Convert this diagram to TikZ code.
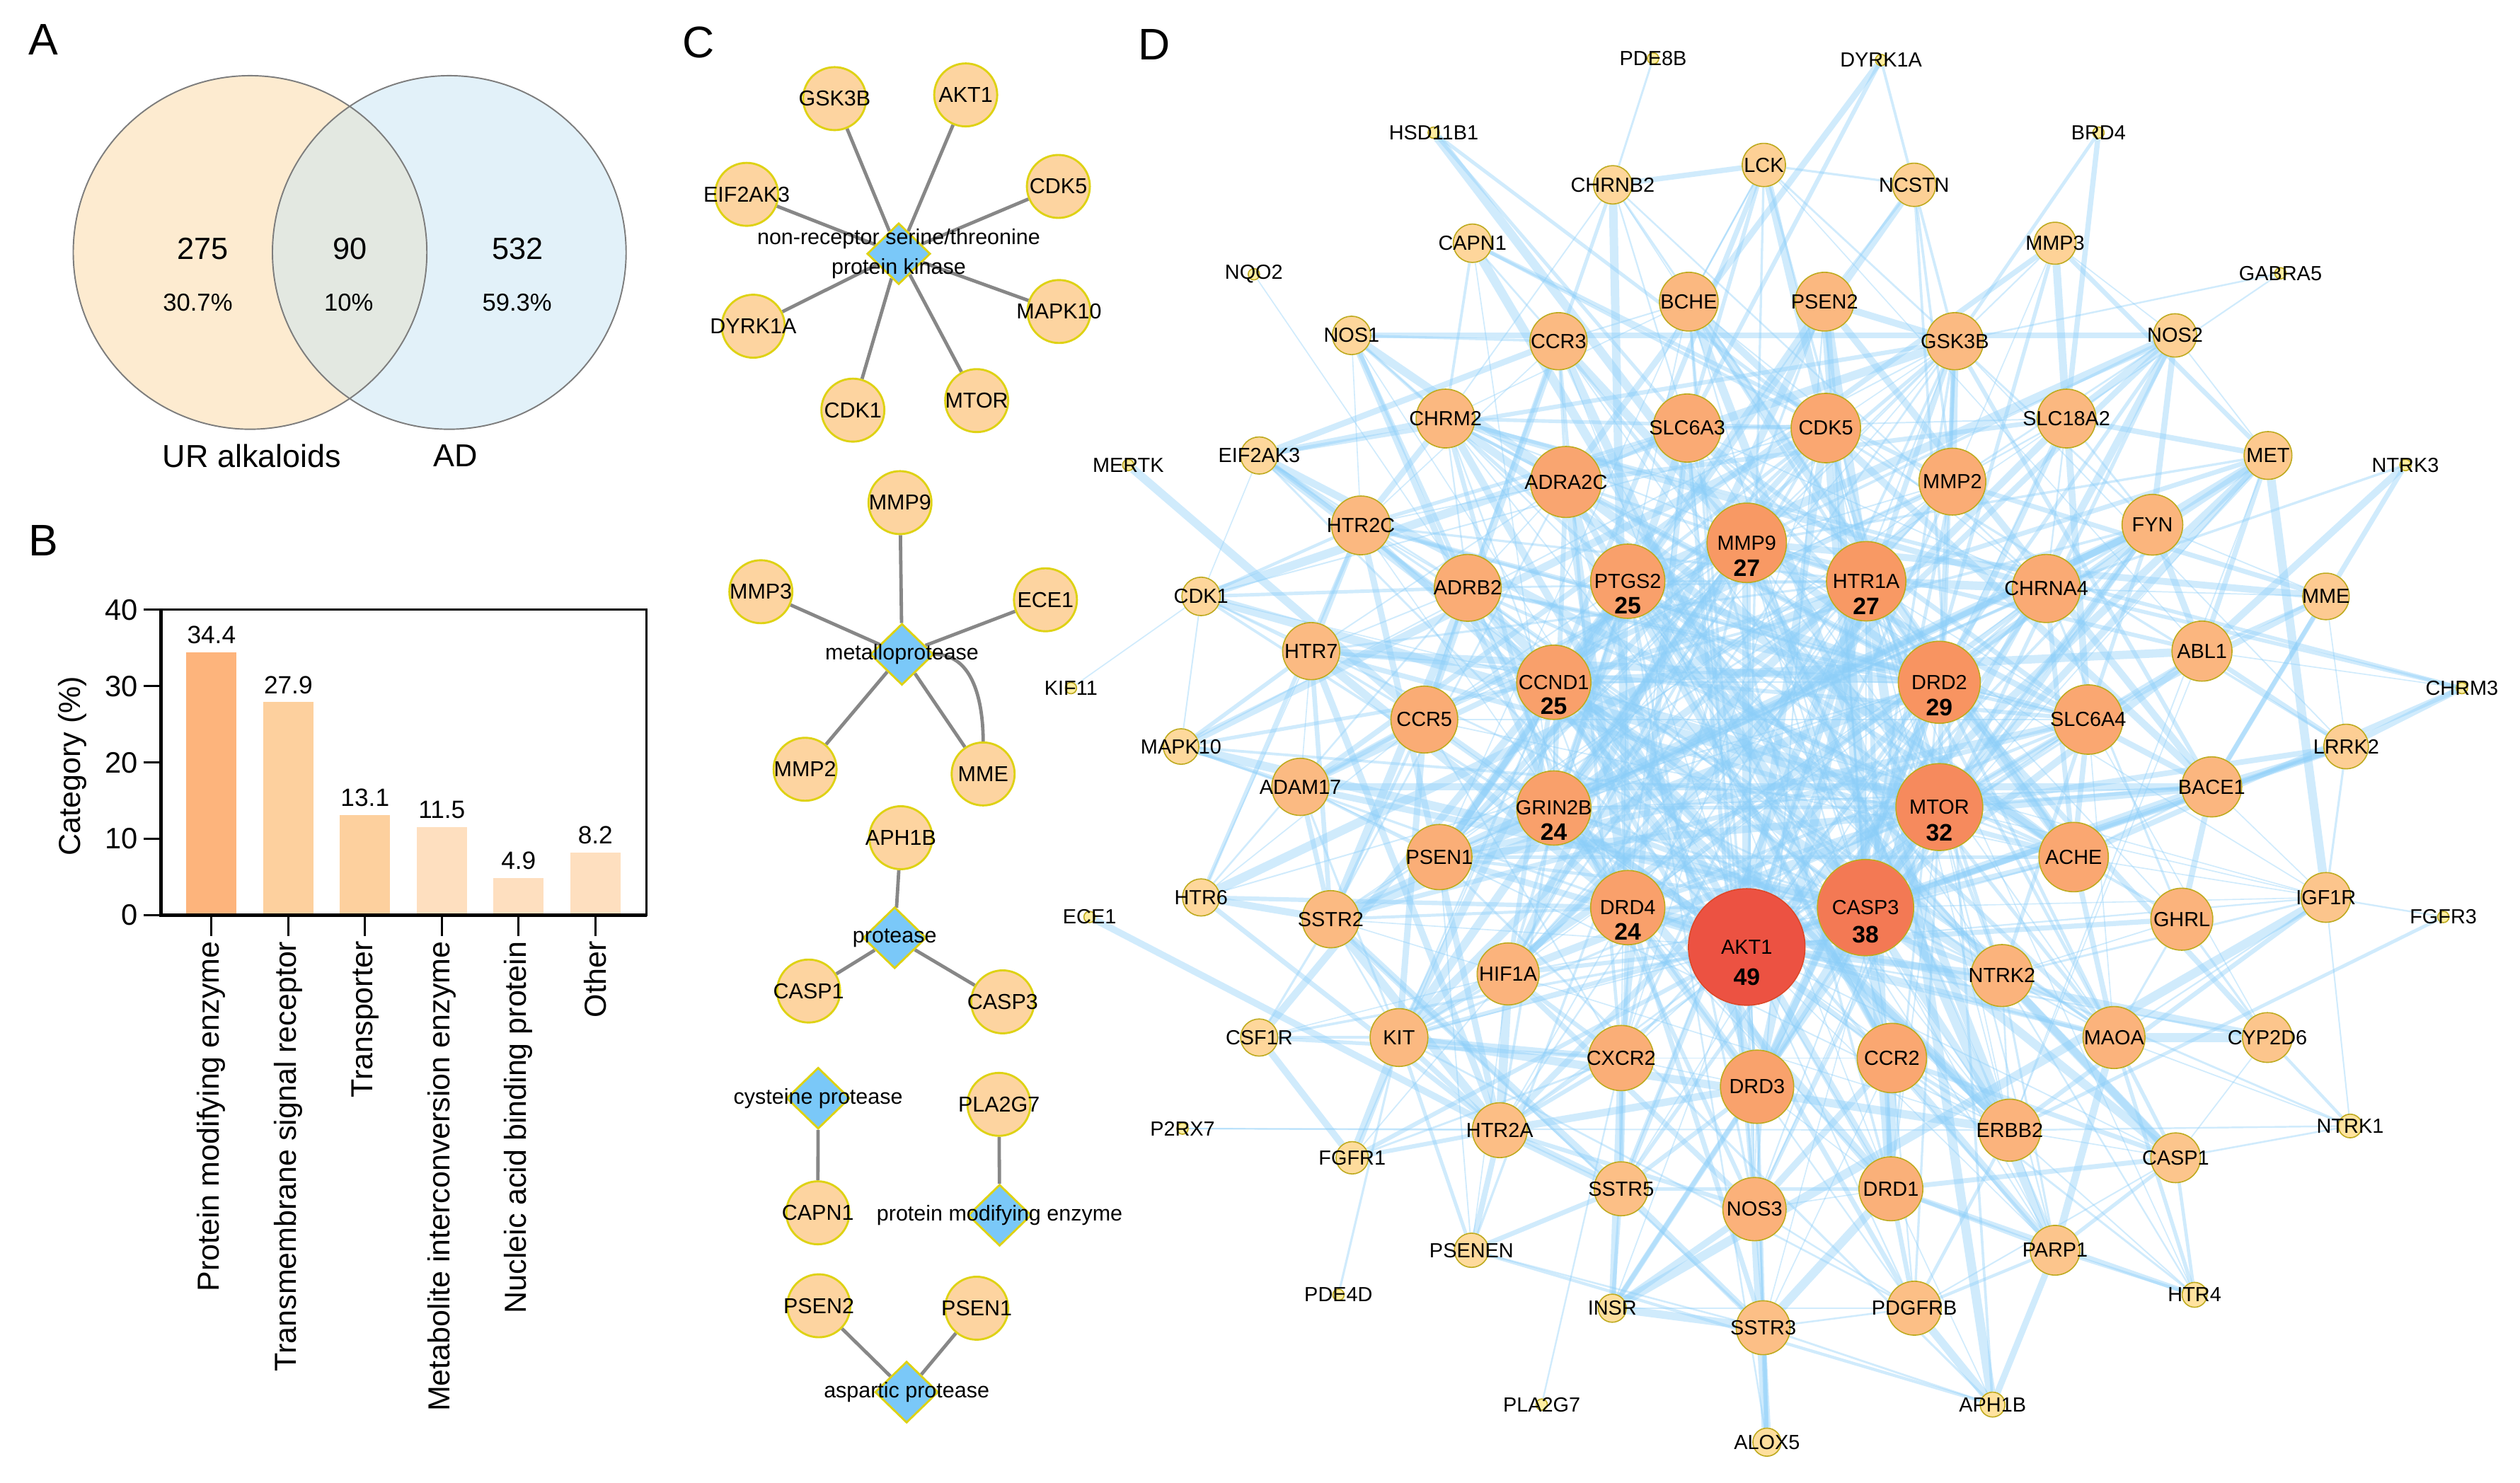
\documentclass[tikz,border=0pt]{standalone}
\usepackage{fontspec}
\setmainfont{Liberation Sans}
\usetikzlibrary{shapes.geometric,backgrounds}

\definecolor{vennorange}{RGB}{253,235,208}
\definecolor{vennblue}{RGB}{226,241,249}
\definecolor{venngreen}{RGB}{227,232,225}
\definecolor{venngray}{RGB}{125,125,125}
\definecolor{barA}{RGB}{253,180,124}
\definecolor{barB}{RGB}{253,208,158}
\definecolor{barC}{RGB}{254,223,191}
\definecolor{peach}{RGB}{253,212,160}
\definecolor{classblue}{RGB}{122,200,248}
\definecolor{ringyellow}{RGB}{222,210,20}
\definecolor{linkgray}{RGB}{135,135,135}
\definecolor{cyellow}{RGB}{255,238,160}
\definecolor{cpeach}{RGB}{254,214,155}
\definecolor{corange}{RGB}{248,150,98}
\definecolor{cred}{RGB}{236,82,66}
\definecolor{olivering}{RGB}{190,170,30}
\definecolor{akred}{RGB}{220,72,40}
\definecolor{edgeblue}{RGB}{138,205,248}

\newcommand{\fsz}[2]{\fontsize{#1}{#2}\selectfont}
% fill of a gene node from its radius
\newcommand{\genecolor}[1]{%
  \pgfmathtruncatemacro\gpa{min(100,max(0,(#1-3.5)/8.5*100))}%
  \pgfmathtruncatemacro\gpb{min(100,max(0,(#1-12)/13*100))}%
  \pgfmathtruncatemacro\gpc{min(100,max(0,(#1-25)/11*100))}%
  \colorlet{gfill}{cpeach!\gpa!cyellow}%
  \colorlet{gfill}{corange!\gpb!gfill}%
  \colorlet{gfill}{cred!\gpc!gfill}}

\tikzset{
  panel/.style={font=\fsz{19.5}{23}, inner sep=0pt},
  ctext/.style={font=\fsz{9.5}{11}},
  dtext/.style={font=\fsz{9}{10}},
  hubnum/.style={font=\fsz{10.5}{12}\bfseries},
  cgene/.style={circle, fill=peach, draw=ringyellow, line width=0.9pt, minimum size=0.975cm, inner sep=0pt},
  cclass/.style={diamond, fill=classblue, draw=ringyellow, line width=0.9pt, minimum width=0.98cm, minimum height=0.95cm, inner sep=0pt},
  clink/.style={draw=linkgray, line width=1.5pt},
  gene/.style={circle, draw=olivering, line width=0.5pt, inner sep=0pt, minimum size=#1},
  link/.style={draw=edgeblue, opacity=0.4},
}

\begin{document}
\begin{tikzpicture}[x=0.025cm, y=-0.025cm]
    \useasboundingbox (0,0) rectangle (1561,918.4);

    % A: venn
    \node[panel] (lblA) at (27,24.6) {A};
    \coordinate (vennL) at (154.9,156.4);
    \coordinate (vennR) at (278.3,156.4);
    \fill[vennorange] (vennL) circle (2.7375cm);
    \fill[vennblue] (vennR) circle (2.7375cm);
    \begin{scope}
        \clip (vennL) circle (2.7375cm);
        \fill[venngreen] (vennR) circle (2.7375cm);
    \end{scope}
    \draw[venngray, line width=0.6pt] (vennL) circle (2.7375cm) (vennR) circle (2.7375cm);
    \node[font=\fsz{13.5}{16}] (numL) at (125.5,154) {275};
    \node[font=\fsz{10.8}{13}] (pctL) at (122.5,187.5) {30.7\%};
    \node[font=\fsz{13.5}{16}] (numM) at (216.8,154) {90};
    \node[font=\fsz{10.8}{13}] (pctM) at (216,187.5) {10\%};
    \node[font=\fsz{13.5}{16}] (numR) at (320.6,154) {532};
    \node[font=\fsz{10.8}{13}] (pctR) at (320.3,187.5) {59.3\%};
    \node[font=\fsz{14}{17}] (setL) at (156,282.4) {UR alkaloids};
    \node[font=\fsz{14}{17}] (setR) at (282,282.4) {AD};

    % B: bar chart
    \node[panel] (lblB) at (27,335.1) {B};
    \foreach \i/\v/\c/\t in {1/34.4/barA/Protein modifying enzyme,2/27.9/barB/Transmembrane signal receptor,3/13.1/barB/Transporter,4/11.5/barC/Metabolite interconversion enzyme,5/4.9/barC/Nucleic acid binding protein,6/8.2/barC/Other}
    {
        \pgfmathsetmacro\bx{131+47.56*(\i-1)}
        \pgfmathsetmacro\by{567-4.73*\v}
        \fill[\c] ({\bx-15.6},567) rectangle ({\bx+15.6},\by);
        \node[font=\fsz{11}{13}, anchor=south, inner sep=0pt] (val\i) at (\bx,{\by-5}) {\v};
        \draw[line width=0.9pt] (\bx,567) -- (\bx,580);
        \node[font=\fsz{13.4}{16}, rotate=90, anchor=east, inner sep=0pt] (cat\i) at (\bx,583) {\t};
    }
    \foreach \v in {0,10,20,30,40}
    {
        \draw[line width=0.9pt] (88.9,{567-4.73*\v}) -- (99.7,{567-4.73*\v});
        \node[anchor=east, inner sep=0pt, font=\fsz{13}{15}] (tick\v) at (85.5,{567-4.73*\v}) {\v};
    }
    \draw[line width=0.9pt] (99.7,377.8) rectangle (400.5,567);
    \draw[line width=1.3pt] (99.7,377.8) -- (99.7,567) -- (400.5,567);
    \node[font=\fsz{13.4}{16}, rotate=90] (ytitle) at (44.7,474.5) {Category (\%)};

    % C: classes
    \node[panel] (lblC) at (432.7,26.4) {C};
    \foreach \n/\x/\y in {GSK3B/517/61.1,AKT1/598.2/58.8,CDK5/655.6/115.5,EIF2AK3/462.5/120.4,%
        DYRK1A/466.6/202.1,MAPK10/656/193,CDK1/528.3/254.1,MTOR/605/248.2,%
        MMP9/557.5/311.4,MMP3/471.3/366.6,ECE1/647.6/371.6,MMP2/498.7/476.6,MME/609/479.5,%
        APH1B/558/519,CASP1/500.9/614,CASP3/621.1/620.7,PLA2G7/618.8/684.2,%
        CAPN1/506.6/751.4,PSEN2/507.2/809,PSEN1/605/810.5}
        \node[cgene, label={[ctext]center:\n}] (c\n) at (\x,\y) {};
    \node[cclass, label={[ctext, align=center, font=\fsz{9.5}{13}]center:non-receptor serine/threonine\\protein kinase}] (ckinase) at (556.7,157.2) {};
    \node[cclass, label={[ctext]center:metalloprotease}] (cmetallo) at (558.7,405.4) {};
    \node[cclass, label={[ctext]center:protease}] (cprotease) at (554.2,581) {};
    \node[cclass, label={[ctext]center:cysteine protease}] (ccysteine) at (506.8,680.4) {};
    \node[cclass, label={[ctext]center:protein modifying enzyme}] (cmodify) at (619.2,752.9) {};
    \node[cclass, label={[ctext]center:aspartic protease}] (caspartic) at (561.6,862.5) {};

    % D: network
    \node[panel] (lblD) at (715,27.4) {D};
    \foreach \n/\x/\y/\r in {%
        HSD11B1/888.1/82.2/3.5,NQO2/776.7/169.9/3.5,MERTK/698.9/288.1/3.5,PDE8B/1024/36.2/3.5,%
        DYRK1A/1165.2/37.2/3.5,BRD4/1299.9/82.2/3.5,GABRA5/1412.6/169.3/3.5,NTRK3/1490/288.1/3.5,%
        KIF11/663.4/426.3/3.5,ECE1/674.9/568.1/3.5,CHRM3/1525/426.3/3.5,FGFR3/1513.5/568.1/3.5,%
        P2RX7/732.5/699.2/3.5,PDE4D/829.1/802.2/3.5,PLA2G7/955/870.2/3.5,%
        CAPN1/912.1/150.7/11.9,NOS1/837.2/207.8/11.9,CHRM2/895.4/259.3/18.2,EIF2AK3/780/282.2/11.5,%
        CHRNB2/999/114.5/11.9,LCK/1092.6/102.2/13.4,NCSTN/1185.7/114.5/13.4,BCHE/1046.1/186.9/18.2,%
        PSEN2/1130.2/186.9/18.2,CCR3/965.4/211.4/17.7,GSK3B/1210.9/211.4/17.7,SLC6A3/1045.1/265.2/21.1,%
        CDK5/1131/265.2/21.5,MMP2/1209.4/298.4/20.7,MMP3/1273/150.7/13,NOS2/1347.3/207.8/13.4,%
        SLC18A2/1280.1/259.3/18.2,MET/1404.9/282.2/14.8,HTR2C/843/325.5/18.2,CDK1/744/369.5/11.9,%
        ADRB2/909.2/364.2/20.7,HTR7/812.2/403.4/17.7,CCR5/882.3/445.8/20.7,MAPK10/731.6/462.5/11,%
        ADAM17/805.5/487.5/17.7,PSEN1/891.6/531/20.2,HTR6/744/556/11.5,SSTR2/824.3/569.5/17.7,%
        HIF1A/934.2/603.4/19.2,NTRK2/1240.1/604.4/19.2,ADRA2C/970/298.6/22,CHRNA4/1267.6/364.6/21.1,%
        FYN/1333.3/325.1/18.8,MME/1440.8/369.5/14.4,ABL1/1364/403.4/18.6,SLC6A4/1293.5/445.8/21.5,%
        LRRK2/1453.3/462.5/13.8,BACE1/1370/487.5/18.6,ACHE/1284.5/531/21.5,IGF1R/1440.8/556/15.4,%
        GHRL/1351.5/569.5/19.2,CSF1R/780/642.8/11.5,KIT/866.6/642.8/17.9,HTR2A/929/700.2/17,%
        FGFR1/837.6/717.3/10,PSENEN/911.5/774.6/10.6,CXCR2/1004.2/655.5/20.2,CCR2/1171.9/655.5/21.5,%
        DRD3/1088.4/673.3/22.7,ERBB2/1244.9/700.2/19.2,SSTR5/1004.2/736.5/16.7,DRD1/1171.3/736.5/19.8,%
        NOS3/1086.8/749.1/19.6,INSR/998.7/810.5/8.7,PDGFRB/1185.8/810.5/16.7,SSTR3/1092.2/822.6/16.7,%
        APH1B/1234.3/870.2/7.7,ALOX5/1094.5/893.5/8.7,MAOA/1309.5/642.8/19.2,CYP2D6/1404.5/642.8/15.4,%
        NTRK1/1455.8/697.6/7.3,CASP1/1347.7/717.3/15.4,PARP1/1273/774.6/15.4,HTR4/1359.4/802.2/7.7}
    {
        \genecolor{\r}
        \node[gene={\r*0.05cm}, fill=gfill, label={[dtext]center:\n}] (d\n) at (\x,\y) {};
    }
    % hubs with degree
    \foreach \n/\x/\y/\r/\k/\b in {%
        MMP9/1082/336.3/24.6/27/olivering,PTGS2/1008.3/360.1/23/25/olivering,%
        HTR1A/1156/360.1/24.6/27/olivering,CCND1/962.5/422.7/23/25/olivering,%
        DRD2/1201.3/422.7/25.4/29/olivering,GRIN2B/962.5/500.6/23/24/olivering,%
        MTOR/1201.3/500/26.9/32/olivering,DRD4/1008.3/562.3/23/24/olivering,%
        CASP3/1155.6/562.3/29.8/38/olivering,AKT1/1082/586.7/36.1/49/akred}
    {
        \genecolor{\r}
        \pgfmathsetmacro\ky{-(8+0.3*\r)*0.025}
        \node[gene={\r*0.05cm}, fill=gfill, draw=\b, label={[dtext]center:\n}, label={[hubnum, yshift=\ky cm]center:\k}] (d\n) at (\x,\y) {};
    }

    \begin{pgfonlayer}{background}
        \foreach \n in {GSK3B,AKT1,CDK5,EIF2AK3,MAPK10,DYRK1A,CDK1,MTOR}
            \draw[clink] (ckinase) -- (c\n);
        \foreach \n in {MMP9,MMP3,ECE1,MMP2,MME}
            \draw[clink] (cmetallo) -- (c\n);
        \draw[clink] (cmetallo) to[out=0, in=90] (cMME);
        \foreach \n in {APH1B,CASP1,CASP3}
            \draw[clink] (cprotease) -- (c\n);
        \draw[clink] (ccysteine) -- (cCAPN1);
        \draw[clink] (cmodify) -- (cPLA2G7);
        \foreach \n in {PSEN2,PSEN1}
            \draw[clink] (caspartic) -- (c\n);

        \pgfmathsetseed{42}
        \foreach \a/\bs in {%
            AKT1/{CASP3,MTOR,DRD2,MMP9,HTR1A,PTGS2,CCND1,GRIN2B,DRD4,GSK3B,CDK5,MMP2,ERBB2,NTRK2,HIF1A,PSEN1,CCR2,CXCR2,NOS3,KIT,ABL1,FYN,IGF1R,MET,NOS2,NOS1,LCK,CDK1,EIF2AK3,MAPK10,CSF1R,FGFR1,INSR,PDGFRB,PARP1,CASP1,BACE1,GHRL,SLC6A4,ACHE,ADRB2,CCR5,DRD3,DRD1,MAOA,CYP2D6,SSTR2,HTR2A,LRRK2},%
            CASP3/{MTOR,DRD2,MMP9,HTR1A,PTGS2,CCND1,GRIN2B,DRD4,GSK3B,CDK5,MMP2,CASP1,PARP1,HIF1A,PSEN1,PSEN2,BACE1,ERBB2,NTRK2,CCR2,NOS3,ABL1,FYN,IGF1R,MET,MMP3,ADAM17,LRRK2,ACHE,BCHE,NOS2,KIT,CDK1,EIF2AK3,MAPK10,CAPN1,DRD3},%
            MTOR/{DRD2,MMP9,HTR1A,PTGS2,CCND1,GRIN2B,DRD4,GSK3B,CDK5,HIF1A,ERBB2,NTRK2,IGF1R,MET,ABL1,FYN,LRRK2,PARP1,INSR,PDGFRB,KIT,EIF2AK3,CDK1,MAPK10,LCK,NOS3,SLC6A4,ACHE,BACE1,DRD1},%
            DRD2/{HTR1A,DRD4,DRD3,DRD1,SLC6A3,SLC6A4,SLC18A2,HTR2A,HTR2C,HTR7,HTR6,ADRA2C,ADRB2,CHRM2,CHRNA4,GRIN2B,MAOA,CYP2D6,SSTR2,SSTR5,SSTR3,FYN,GSK3B,PTGS2,CCND1,MMP9},%
            MMP9/{MMP2,MMP3,PTGS2,CCND1,HIF1A,ERBB2,ADAM17,BACE1,ABL1,KIT,MET,IGF1R,NOS3,NOS2,CCR2,CXCR2,CCR5,CCR3,PSEN1,MME,GRIN2B,HTR1A,PARP1,HSD11B1},%
            HTR1A/{HTR2A,HTR2C,HTR7,HTR6,HTR4,SLC6A4,SLC6A3,DRD4,DRD3,DRD1,ADRA2C,ADRB2,CHRM2,MAOA,GRIN2B,SSTR2,SSTR5,BCHE,ACHE,CHRNA4,PTGS2,GHRL},%
            PTGS2/{CCND1,HIF1A,NOS2,NOS3,NOS1,ALOX5,CASP1,PARP1,ERBB2,MAOA,CXCR2,CCR2,CCR5,GRIN2B,KIT,BCHE,ACHE,CDK5,PSEN1},%
            CCND1/{CDK5,CDK1,GSK3B,ERBB2,HIF1A,ABL1,FYN,LCK,MET,IGF1R,KIT,PARP1,NTRK2,CSF1R,PDGFRB,FGFR1,MAPK10,EIF2AK3,GRIN2B},%
            GRIN2B/{DRD4,DRD1,DRD3,CDK5,FYN,GSK3B,NOS1,PSEN1,CHRNA4,CHRM2,ADRA2C,SLC6A3,NTRK2,HTR2A,BACE1,CAPN1},%
            DRD4/{DRD3,DRD1,SLC6A3,SLC6A4,HTR2A,HTR2C,HTR7,ADRA2C,ADRB2,CHRM2,CHRNA4,CHRNB2,MAOA,CYP2D6,SSTR2,SSTR3,SSTR5,HTR6},%
            GSK3B/{CDK5,PSEN1,PSEN2,BACE1,LRRK2,DYRK1A,CDK1,MAPK10,EIF2AK3,GABRA5,BRD4,HIF1A,SSTR5,CXCR2},%
            CDK5/{CDK1,PSEN1,MAPK10,LRRK2,SLC6A3,CHRM2,CAPN1,HSD11B1,HIF1A,CXCR2,NTRK2,ERBB2},%
            PSEN1/{PSEN2,NCSTN,PSENEN,APH1B,BACE1,ADAM17,ACHE,BCHE},%
            PSEN2/{NCSTN,PSENEN,APH1B,BACE1,DRD1,NOS3,HIF1A},%
            ADAM17/{BACE1,MMP2,MMP3,KIT,ERBB2,MAPK10},%
            BACE1/{ACHE,BCHE,MME,LRRK2,IGF1R,GHRL,NTRK3},%
            ACHE/{BCHE,CHRNA4,CHRM2,CHRNB2,SLC6A4,CHRM3,GHRL,MAOA,IGF1R,ADRB2,CCR5,HTR7},%
            BCHE/{CHRNA4,CHRM2,CHRNB2,CCR3,LCK,NOS3,DRD3,ERBB2},%
            SLC6A3/{SLC6A4,SLC18A2,MAOA,CHRNA4,CHRNB2,ADRA2C,HTR2C,DYRK1A,HSD11B1,DRD3,DRD1,CXCR2,NOS3},%
            SLC6A4/{SLC18A2,MAOA,HTR2A,HTR2C,HTR7,CYP2D6,MME,CCR5,ADRB2,PSEN1,SSTR2},%
            ADRA2C/{ADRB2,CHRM2,HTR2C,HTR7,SLC18A2,SSTR2,CCR3,NOS1,DYRK1A,NTRK2,DRD3,CCR2,ACHE},%
            ADRB2/{CHRM2,HTR2C,HTR7,CCR5,CCR3,EIF2AK3,CDK1,SSTR2,HTR6,NQO2,MAOA,NTRK2,ERBB2},%
            CHRNA4/{CHRNB2,CHRM2,CHRM3,FYN,MME,NTRK3,SLC18A2,GHRL,PSEN1,CXCR2,HIF1A,SSTR5},%
            CCR5/{CCR2,CCR3,CXCR2,HTR7,ADAM17,SSTR2,KIT,MERTK,HTR6},%
            CCR2/{CXCR2,CCR3,NOS3,DRD1,PDGFRB,SSTR3,CASP1,HTR4,PARP1,ERBB2},%
            CXCR2/{CCR3,KIT,CSF1R,HTR2A,SSTR5,INSR,FGFR1,PLA2G7,HIF1A},%
            HIF1A/{NOS3,NOS2,ERBB2,KIT,CSF1R,FGFR1,PSENEN,HTR2A,SSTR2},%
            NTRK2/{NTRK1,ERBB2,IGF1R,FYN,MAOA,PARP1,GHRL,HTR4,CASP1},%
            ERBB2/{IGF1R,MET,ABL1,PDGFRB,FGFR3,NTRK1,KIT,PARP1,HTR4,CASP1,P2RX7},%
            DRD3/{DRD1,SSTR3,SSTR5,NOS3,CXCR2,HTR2A,ALOX5,INSR,PDGFRB},%
            DRD1/{SSTR3,SSTR5,NOS3,PDGFRB,APH1B,HTR4,PARP1,CASP1},%
            NOS3/{NOS1,NOS2,SSTR3,INSR,ALOX5,PDGFRB,HTR2A},%
            MAOA/{CYP2D6,CASP1,NTRK1,PARP1,GHRL,IGF1R,HTR4},%
            KIT/{CSF1R,FGFR1,PDGFRB,HTR2A,PSENEN,PDE4D,MET,MMP2},%
            HTR2A/{HTR2C,HTR7,HTR6,SSTR5,SSTR2,PSENEN,FGFR1,P2RX7,ECE1},%
            HTR2C/{HTR7,HTR6,CHRM2,CDK1,EIF2AK3,NOS1,CCR3,MAOA,ERBB2},%
            HTR7/{HTR6,SSTR2,CDK1,MAPK10,ADAM17},%
            SSTR2/{SSTR5,SSTR3,HTR6,ADAM17,CSF1R,KIT,SLC18A2,FYN},%
            SSTR5/{SSTR3,INSR,PSENEN,HTR2A},%
            SSTR3/{INSR,ALOX5,PDGFRB,APH1B,PSENEN},%
            PDGFRB/{APH1B,PARP1,INSR,CASP1},%
            PARP1/{CASP1,HTR4,APH1B},%
            CASP1/{CYP2D6,HTR4,NTRK1},%
            CYP2D6/{NTRK1,GHRL},%
            FGFR3/{IGF1R},%
            IGF1R/{LRRK2,NTRK1,MET,INSR},%
            ABL1/{FYN,LCK,MET,LRRK2,CHRM3,MME,NTRK3},%
            LRRK2/{CHRM3,MME},%
            FYN/{LCK,MET,NOS2,SLC18A2,MME,PSEN1,DRD3},%
            MET/{NOS2,MMP3,SLC18A2},%
            MMP2/{MMP3,MME,GSK3B,SLC18A2,NOS2,NCSTN,HIF1A,PSEN1,CCR5},%
            SLC18A2/{NOS2,MMP3,GABRA5,BRD4,HIF1A,DRD3},%
            NOS2/{NOS1,MMP3},%
            LCK/{NCSTN,CHRNB2,BCHE,SLC6A3,CDK5},%
            CCR3/{CHRNB2,CAPN1,NOS1,EIF2AK3,NTRK2,MAOA,DRD1},%
            CHRM2/{NOS1,EIF2AK3,CAPN1,CHRM3,CHRNB2,DRD1,ERBB2,NTRK2},%
            CDK1/{KIF11,MAPK10,EIF2AK3},%
            CSF1R/{FGFR1},%
            PSENEN/{APH1B},%
            CHRNB2/{PDE8B},%
            NCSTN/{APH1B},%
            CAPN1/{MMP2}}
        {
            \foreach \b in \bs
            {
                \pgfmathsetmacro\lw{0.5+3.6*rnd^2}
                \draw[link, line width=\lw pt] (d\a) -- (d\b);
            }
        }
    \end{pgfonlayer}
\end{tikzpicture}
\end{document}
